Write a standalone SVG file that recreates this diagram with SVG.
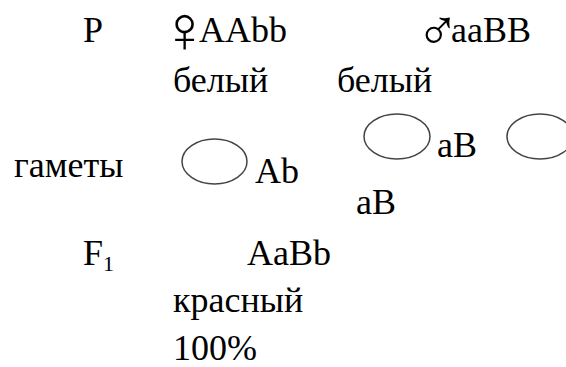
<svg xmlns="http://www.w3.org/2000/svg" width="566" height="367" viewBox="0 0 566 367">
<style>
text{font-family:'Liberation Serif','Times New Roman','DejaVu Serif',serif;font-size:36px;fill:#000}
.sub{font-size:22px}
.sym{font-family:'DejaVu Sans',sans-serif;font-weight:200}
.fem{font-size:66px}
.mal{font-size:58px}
.g{fill:none;stroke:#444;stroke-width:1.5}
</style>
<rect width="566" height="367" fill="#fff"/>
<g id="parents">
<text x="83" y="42">P</text>
<text class="sym fem" x="160" y="52">♀</text>
<text x="199" y="42">AAbb</text>
<text class="sym mal" x="416" y="50">♂</text>
<text x="451" y="42">aaBB</text>
<text x="173" y="92">белый</text>
<text x="337" y="92">белый</text>
</g>
<g id="gametes">
<text x="14" y="177">гаметы</text>
<ellipse class="g" cx="214.5" cy="161.5" rx="32.5" ry="22.5"/>
<text x="255" y="183">Ab</text>
<ellipse class="g" cx="397" cy="136.5" rx="33" ry="22.5"/>
<text x="437" y="157">aB</text>
<ellipse class="g" cx="540" cy="136.5" rx="33" ry="22.5"/>
<text x="356" y="214">aB</text>
</g>
<g id="f1">
<text x="83" y="265">F<tspan class="sub" dy="6">1</tspan></text>
<text x="247" y="265">AaBb</text>
<text x="173" y="312">красный</text>
<text x="173" y="360">100%</text>
</g>
</svg>
